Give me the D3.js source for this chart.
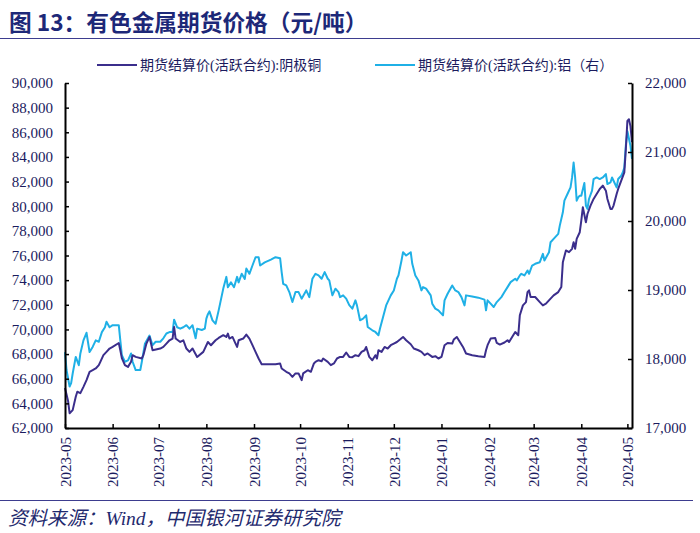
<!DOCTYPE html>
<html><head><meta charset="utf-8">
<script src="https://cdn.jsdelivr.net/npm/d3@7"></script>
<style>body{margin:0;background:#fff} svg{display:block}</style>
</head><body>
<svg id="c" width="700" height="533"></svg>
<script>
const copperDates = ["2023-05-24","2023-05-26","2023-05-27","2023-05-29","2023-05-31","2023-06-01","2023-06-03","2023-06-05","2023-06-07","2023-06-09","2023-06-11","2023-06-13","2023-06-15","2023-06-16","2023-06-18","2023-06-20","2023-06-22","2023-06-24","2023-06-28","2023-06-29","2023-06-30","2023-07-02","2023-07-04","2023-07-06","2023-07-07","2023-07-09","2023-07-13","2023-07-14","2023-07-16","2023-07-18","2023-07-20","2023-07-25","2023-07-27","2023-07-29","2023-07-31","2023-08-02","2023-08-03","2023-08-04","2023-08-07","2023-08-09","2023-08-11","2023-08-13","2023-08-15","2023-08-18","2023-08-22","2023-08-25","2023-08-27","2023-08-30","2023-09-01","2023-09-04","2023-09-06","2023-09-07","2023-09-08","2023-09-10","2023-09-12","2023-09-13","2023-09-14","2023-09-17","2023-09-19","2023-09-21","2023-09-23","2023-09-25","2023-09-27","2023-09-29","2023-10-03","2023-10-08","2023-10-11","2023-10-12","2023-10-15","2023-10-17","2023-10-19","2023-10-21","2023-10-23","2023-10-25","2023-10-26","2023-10-29","2023-10-31","2023-11-02","2023-11-03","2023-11-05","2023-11-07","2023-11-08","2023-11-11","2023-11-13","2023-11-15","2023-11-17","2023-11-19","2023-11-21","2023-11-23","2023-11-25","2023-11-27","2023-11-29","2023-12-01","2023-12-03","2023-12-05","2023-12-06","2023-12-08","2023-12-10","2023-12-12","2023-12-13","2023-12-14","2023-12-16","2023-12-18","2023-12-20","2023-12-22","2023-12-24","2023-12-26","2023-12-28","2023-12-30","2024-01-01","2024-01-04","2024-01-06","2024-01-09","2024-01-11","2024-01-13","2024-01-15","2024-01-18","2024-01-20","2024-01-22","2024-01-24","2024-01-26","2024-01-28","2024-01-31","2024-02-01","2024-02-03","2024-02-05","2024-02-07","2024-02-09","2024-02-13","2024-02-17","2024-02-21","2024-02-22","2024-02-23","2024-02-25","2024-02-28","2024-02-29","2024-03-02","2024-03-05","2024-03-07","2024-03-08","2024-03-10","2024-03-12","2024-03-14","2024-03-15","2024-03-17","2024-03-19","2024-03-20","2024-03-21","2024-03-22","2024-03-25","2024-03-28","2024-03-30","2024-04-01","2024-04-04","2024-04-06","2024-04-09","2024-04-11","2024-04-12","2024-04-14","2024-04-16","2024-04-18","2024-04-19","2024-04-20","2024-04-21","2024-04-23","2024-04-24","2024-04-25","2024-04-27","2024-04-28","2024-04-30","2024-05-02","2024-05-04","2024-05-06","2024-05-08","2024-05-10","2024-05-11","2024-05-13","2024-05-14","2024-05-15","2024-05-17","2024-05-18","2024-05-20","2024-05-22","2024-05-23","2024-05-24","2024-05-25","2024-05-26","2024-05-27"];
const copperValues = [65250,64200,63200,63450,64530,64940,64830,65340,65880,66560,66690,66830,67100,67370,67910,68180,68450,68580,68900,68310,67670,67100,66960,67370,67910,67770,67640,67910,68850,69390,68310,68450,68580,68850,69120,69260,70200,69260,68980,69120,68450,68180,68450,67770,68180,68980,68720,69120,69310,69530,69390,69660,69260,69390,68850,68580,69120,69260,69580,69260,68720,68180,67640,67180,67180,67180,67240,66830,66560,66430,66150,66430,66430,65880,66430,66690,66560,67240,67370,67500,67420,67640,67370,67100,67240,67640,67770,67770,68130,67770,67750,67910,67830,68180,68310,68580,67770,67500,67910,67640,68310,68180,68580,68450,68720,68850,68980,69180,69390,69120,68800,68450,68310,68180,67910,68050,67770,67830,67640,67770,68720,68900,68850,69180,69390,68980,68580,68050,67910,67830,67770,68310,68720,69260,69310,68900,68770,68940,69120,68980,69390,69790,69530,71150,71950,72220,73030,73170,72630,72630,72220,71950,72090,72500,72760,73030,73440,75460,76410,76270,76540,77080,76540,77350,77890,78830,79910,78700,79370,80050,80590,80990,81400,81670,81260,80590,79780,79780,80050,80990,81400,82070,82740,84640,86930,87060,86500,85200];

const aluDates = ["2023-05-24","2023-05-25","2023-05-27","2023-05-28","2023-05-29","2023-05-31","2023-06-02","2023-06-03","2023-06-05","2023-06-07","2023-06-09","2023-06-11","2023-06-13","2023-06-15","2023-06-17","2023-06-19","2023-06-20","2023-06-22","2023-06-24","2023-06-28","2023-06-29","2023-06-30","2023-07-02","2023-07-04","2023-07-06","2023-07-07","2023-07-09","2023-07-12","2023-07-13","2023-07-15","2023-07-18","2023-07-20","2023-07-22","2023-07-25","2023-07-27","2023-07-29","2023-07-31","2023-08-02","2023-08-03","2023-08-05","2023-08-07","2023-08-09","2023-08-11","2023-08-13","2023-08-15","2023-08-17","2023-08-18","2023-08-21","2023-08-23","2023-08-24","2023-08-25","2023-08-26","2023-08-28","2023-08-30","2023-09-01","2023-09-04","2023-09-06","2023-09-07","2023-09-09","2023-09-11","2023-09-13","2023-09-14","2023-09-16","2023-09-18","2023-09-19","2023-09-21","2023-09-23","2023-09-25","2023-09-27","2023-09-28","2023-10-01","2023-10-05","2023-10-08","2023-10-11","2023-10-12","2023-10-13","2023-10-15","2023-10-17","2023-10-19","2023-10-21","2023-10-23","2023-10-25","2023-10-28","2023-10-30","2023-11-01","2023-11-03","2023-11-05","2023-11-07","2023-11-09","2023-11-11","2023-11-12","2023-11-14","2023-11-16","2023-11-18","2023-11-19","2023-11-21","2023-11-23","2023-11-25","2023-11-27","2023-11-29","2023-11-30","2023-12-02","2023-12-04","2023-12-06","2023-12-07","2023-12-10","2023-12-12","2023-12-14","2023-12-15","2023-12-17","2023-12-19","2023-12-22","2023-12-24","2023-12-26","2023-12-27","2023-12-29","2023-12-30","2024-01-01","2024-01-04","2024-01-05","2024-01-07","2024-01-09","2024-01-11","2024-01-12","2024-01-14","2024-01-17","2024-01-18","2024-01-20","2024-01-22","2024-01-25","2024-01-26","2024-01-28","2024-01-31","2024-02-02","2024-02-04","2024-02-06","2024-02-08","2024-02-09","2024-02-13","2024-02-17","2024-02-21","2024-02-22","2024-02-23","2024-02-25","2024-02-27","2024-02-29","2024-03-03","2024-03-05","2024-03-07","2024-03-09","2024-03-12","2024-03-13","2024-03-15","2024-03-16","2024-03-18","2024-03-20","2024-03-21","2024-03-23","2024-03-25","2024-03-28","2024-03-30","2024-03-31","2024-04-03","2024-04-04","2024-04-06","2024-04-09","2024-04-10","2024-04-12","2024-04-13","2024-04-15","2024-04-17","2024-04-18","2024-04-19","2024-04-20","2024-04-21","2024-04-22","2024-04-23","2024-04-24","2024-04-26","2024-04-27","2024-04-28","2024-04-29","2024-05-01","2024-05-02","2024-05-04","2024-05-06","2024-05-08","2024-05-10","2024-05-11","2024-05-13","2024-05-14","2024-05-15","2024-05-17","2024-05-18","2024-05-20","2024-05-21","2024-05-22","2024-05-23","2024-05-24","2024-05-26","2024-05-27"];
const aluValues = [18100,17840,17600,17650,17790,18030,17910,18080,18270,18380,18100,18175,18270,18250,18390,18460,18540,18460,18490,18490,18270,18055,17960,17980,18080,17960,17840,17840,17960,18220,18340,18200,18250,18250,18300,18370,18390,18390,18570,18460,18440,18460,18490,18440,18490,18300,18440,18420,18440,18585,18650,18690,18560,18510,18705,19020,19190,19040,19110,19040,19190,19110,19235,19160,19310,19235,19355,19475,19475,19355,19400,19440,19475,19460,19260,19090,19066,18970,18825,18970,18970,18874,18994,18897,19163,19235,19211,19163,19259,19163,19139,18922,19019,18970,18897,18922,18874,18780,18730,18850,18777,18561,18585,18633,18464,18416,18392,18344,18441,18608,18777,18922,18994,19163,19211,19428,19548,19500,19548,19380,19211,19139,18994,19042,19019,18922,18802,18730,18705,18633,18850,18946,19066,18994,18970,18897,18777,18922,18907,18889,18860,18705,18850,18802,18753,18825,18897,18970,19042,19114,19163,19139,19211,19235,19211,19283,19235,19355,19380,19403,19524,19428,19548,19692,19741,19813,19933,20126,20295,20391,20487,20631,20848,20631,20295,20342,20367,20367,20550,20222,20175,20319,20439,20608,20631,20608,20631,20680,20536,20559,20631,20584,20487,20608,20656,20704,20776,21100,21300,21090,20900];

const leftTicks = [62000,64000,66000,68000,70000,72000,74000,76000,78000,80000,82000,84000,86000,88000,90000];
const rightTicks = [17000,18000,19000,20000,21000,22000];
const xTickDates = ["2023-05-24","2023-06-24","2023-07-24","2023-08-24","2023-09-24","2023-10-24","2023-11-24","2023-12-24","2024-01-24","2024-02-24","2024-03-24","2024-04-24","2024-05-24"];
const xTickLabels = ["2023-05","2023-06","2023-07","2023-08","2023-09","2023-10","2023-11","2023-12","2024-01","2024-02","2024-03","2024-04","2024-05"];
const seriesNames = ["期货结算价(活跃合约):阴极铜","期货结算价(活跃合约):铝（右）"];
const titleText = "图 13：有色金属期货价格（元/吨）";
const sourceText = "资料来源：Wind，中国银河证券研究院";

const parse = d3.timeParse("%Y-%m-%d");
const colCu = "#3b2e8c", colAl = "#1fb0e6", navy = "#1b1b5e";
const svg = d3.select("#c");
const m = {left:65, right:632, top:83, bottom:428};

const x = d3.scaleTime().domain([parse("2023-05-24"), parse("2024-05-27")]).range([m.left, m.right]);
const yL = d3.scaleLinear().domain([62000, 90000]).range([m.bottom, m.top]);
const yR = d3.scaleLinear().domain([17000, 22000]).range([m.bottom, m.top]);

// title
svg.append("text").attr("x", 9).attr("y", 31)
  .attr("font-family", "'Noto Sans CJK SC', sans-serif").attr("font-weight", "bold")
  .attr("font-size", 22.7).attr("fill", "#1d2878").text(titleText);
svg.append("line").attr("x1", 0).attr("x2", 700).attr("y1", 38.5).attr("y2", 38.5)
  .attr("stroke", "#3d3d8f").attr("stroke-width", 1);

// legend
const legFont = "'Liberation Serif', 'Noto Sans CJK SC', serif";
const legend = [{x1:97, x2:137, tx:140, c:colCu, t:seriesNames[0]}, {x1:375, x2:415, tx:418, c:colAl, t:seriesNames[1]}];
legend.forEach(l => {
  svg.append("line").attr("x1", l.x1).attr("x2", l.x2).attr("y1", 65).attr("y2", 65)
    .attr("stroke", l.c).attr("stroke-width", 2);
  svg.append("text").attr("x", l.tx).attr("y", 70).attr("font-family", legFont)
    .attr("font-size", 14).attr("fill", navy).text(l.t);
});

// lines
const cuData = copperDates.map((d, i) => ({d: parse(d), v: copperValues[i]}));
const alData = aluDates.map((d, i) => ({d: parse(d), v: aluValues[i]}));
svg.append("path").datum(alData).attr("fill", "none").attr("stroke", colAl).attr("stroke-width", 2)
  .attr("stroke-linejoin", "round").attr("d", d3.line().x(p => x(p.d)).y(p => yR(p.v)));
svg.append("path").datum(cuData).attr("fill", "none").attr("stroke", colCu).attr("stroke-width", 2)
  .attr("stroke-linejoin", "round").attr("d", d3.line().x(p => x(p.d)).y(p => yL(p.v)));

// axes
const axFont = "'Liberation Serif', 'Times New Roman', serif";
function styleAxis(g) {
  g.select(".domain").attr("stroke", "#000").attr("stroke-width", 2);
  g.selectAll(".tick line").attr("stroke", "#000").attr("stroke-width", 1.5);
  g.selectAll("text").attr("font-family", axFont).attr("font-size", 15).attr("fill", navy);
}
const gL = svg.append("g").attr("transform", `translate(${m.left},0)`)
  .call(d3.axisLeft(yL).tickValues(leftTicks).tickSizeInner(-4).tickSizeOuter(0).tickPadding(12).tickFormat(d3.format(",")));
styleAxis(gL);
const gR = svg.append("g").attr("transform", `translate(${m.right},0)`)
  .call(d3.axisRight(yR).tickValues(rightTicks).tickSizeInner(-4).tickSizeOuter(0).tickPadding(13).tickFormat(d3.format(",")));
styleAxis(gR);
const gB = svg.append("g").attr("transform", `translate(0,${m.bottom})`)
  .call(d3.axisBottom(x).tickValues(xTickDates.map(parse)).tickSizeInner(-4).tickSizeOuter(0)
    .tickFormat((d, i) => xTickLabels[i]));
styleAxis(gB);
gB.selectAll("text").attr("transform", "rotate(-90)").attr("text-anchor", "end")
  .attr("x", -9).attr("y", 0).attr("dy", "0.35em");

// footer
svg.append("line").attr("x1", 0).attr("x2", 693).attr("y1", 500.5).attr("y2", 500.5)
  .attr("stroke", "#3d3d8f").attr("stroke-width", 1);
svg.append("text").attr("x", 8).attr("y", 525).attr("font-family", "'Liberation Serif', 'Noto Sans CJK SC', serif")
  .attr("font-style", "italic").attr("font-size", 19.5).attr("fill", "#1f2a6e").text(sourceText);
</script>
</body></html>
